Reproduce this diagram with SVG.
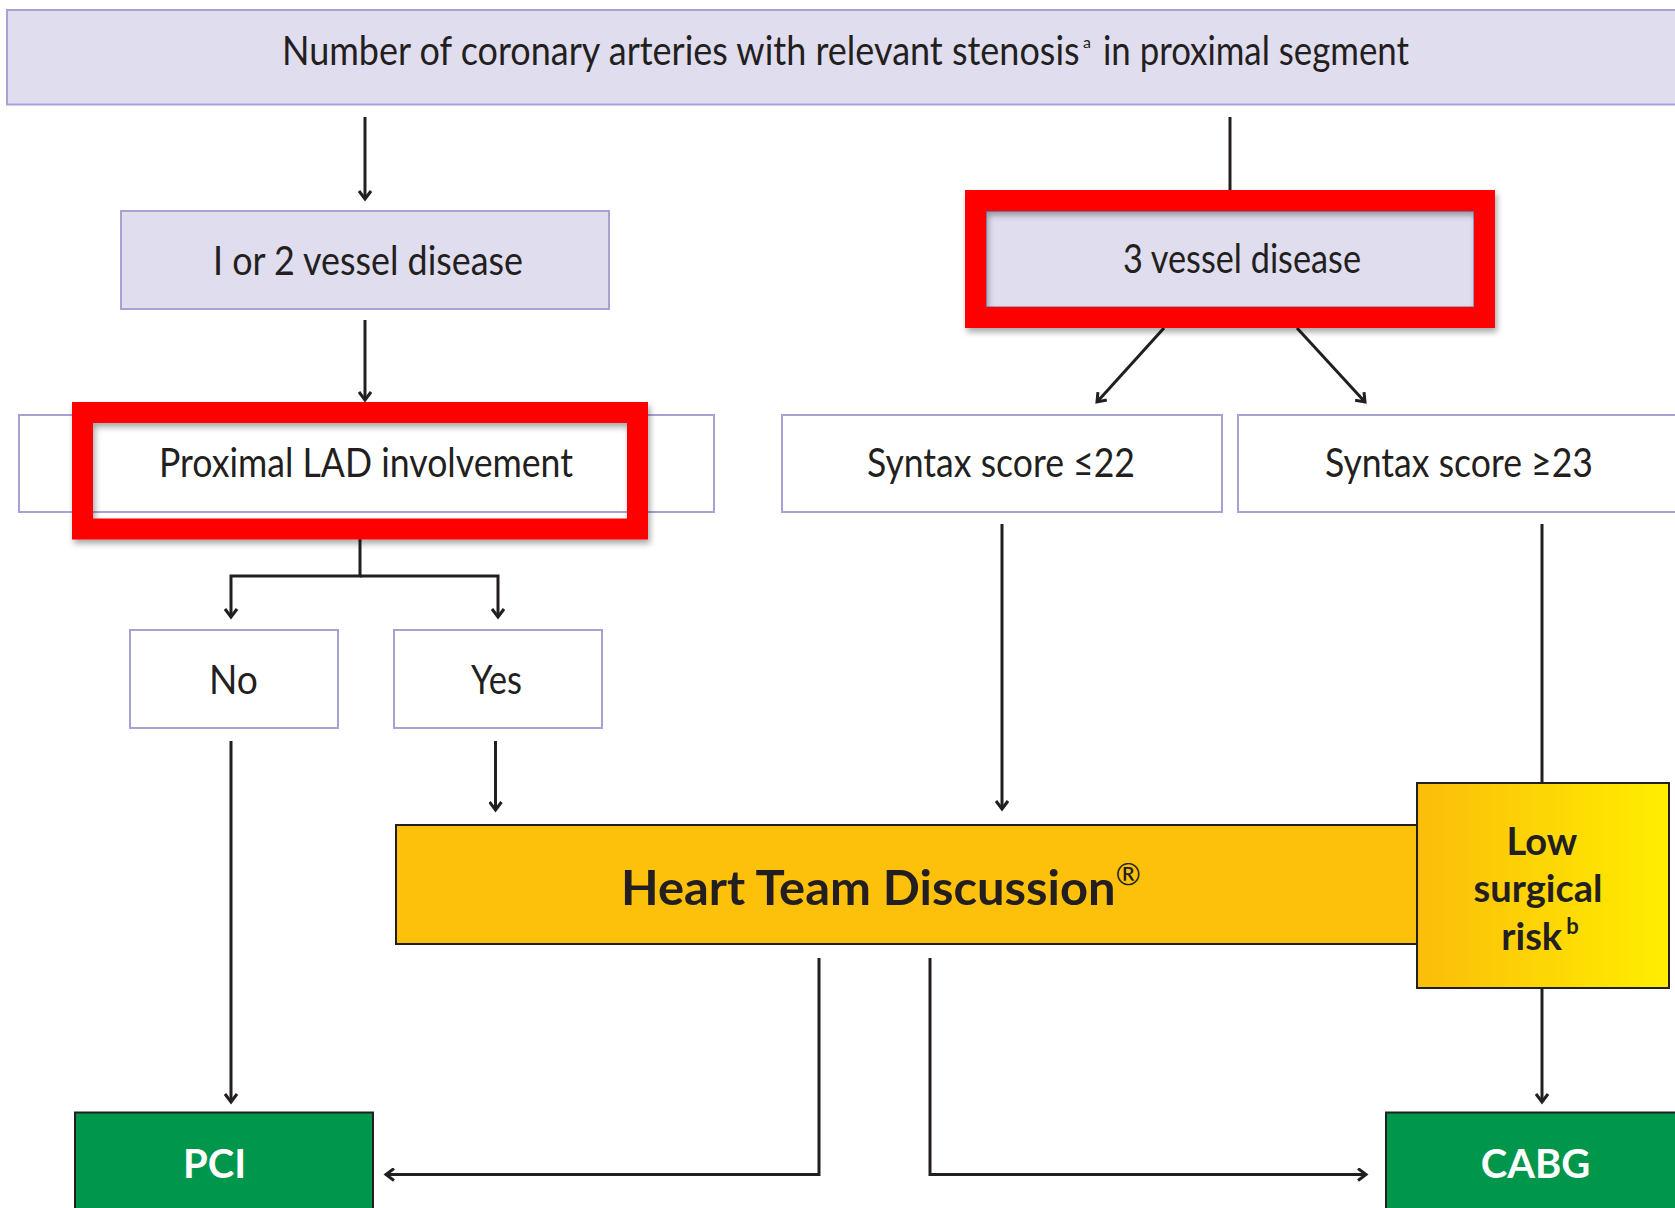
<svg xmlns="http://www.w3.org/2000/svg" width="1675" height="1208" viewBox="0 0 1675 1208">
<style>
.lav{fill:#e0ddef;stroke:#a7a2d6;stroke-width:2}
.wht{fill:#ffffff;stroke:#a7a2d6;stroke-width:2}
.t{font-family:Lato,"Liberation Sans",sans-serif;font-size:40px;fill:#231f20}
.sup{font-family:Lato,"Liberation Sans",sans-serif;font-size:16px;fill:#231f20}
.b{font-family:Lato,"Liberation Sans",sans-serif;font-weight:bold;fill:#231f20}
.w{font-family:Lato,"Liberation Sans",sans-serif;font-weight:bold;font-size:40px;fill:#ffffff}
.c{fill:none;stroke:#231f20;stroke-width:3}
.grn{fill:#00964b;stroke:#231f20;stroke-width:2}
.hl{fill:none;stroke:#ff0000;stroke-width:21}
</style>
<defs>
<marker id="ah" markerUnits="userSpaceOnUse" markerWidth="14" markerHeight="14" viewBox="0 0 14 14" refX="11" refY="7" orient="auto">
<path d="M3,1 L11,7 L3,13" fill="none" stroke="#231f20" stroke-width="3"/>
</marker>
<linearGradient id="gy" x1="0" y1="0" x2="1" y2="0">
<stop offset="0" stop-color="#fbbd0a"/>
<stop offset="1" stop-color="#ffee00"/>
</linearGradient>
<filter id="sh" x="-10%" y="-10%" width="120%" height="130%">
<feDropShadow dx="2" dy="4" stdDeviation="3" flood-color="#000" flood-opacity="0.35"/>
</filter>
</defs>

<g id="connectors">
<line class="c" x1="365" y1="117" x2="365" y2="199" marker-end="url(#ah)"/>
<line class="c" x1="1230" y1="117" x2="1230" y2="199" marker-end="url(#ah)"/>
<line class="c" x1="365" y1="320" x2="365" y2="400" marker-end="url(#ah)"/>
<path class="c" d="M360,539 V576 H231 V617" marker-end="url(#ah)"/>
<path class="c" d="M360,576 H498 V617" marker-end="url(#ah)"/>
<line class="c" x1="1164" y1="328" x2="1097" y2="402" marker-end="url(#ah)"/>
<line class="c" x1="1297" y1="328" x2="1365" y2="402" marker-end="url(#ah)"/>
<line class="c" x1="1002" y1="524" x2="1002" y2="809" marker-end="url(#ah)"/>
<line class="c" x1="1542" y1="524" x2="1542" y2="783"/>
<line class="c" x1="231" y1="741" x2="231" y2="1102" marker-end="url(#ah)"/>
<line class="c" x1="495.5" y1="741" x2="495.5" y2="810" marker-end="url(#ah)"/>
<line class="c" x1="1542" y1="988" x2="1542" y2="1102" marker-end="url(#ah)"/>
<path class="c" d="M819,958 V1174.5 H386" marker-end="url(#ah)"/>
<path class="c" d="M930,958 V1174.5 H1366" marker-end="url(#ah)"/>
</g>

<g id="top">
<rect class="lav" x="7" y="10" width="1690" height="94.5"/>
<text class="t" transform="translate(282,65) scale(0.9,1)" x="0" y="0">Number of coronary arteries with relevant stenosis</text>
<text class="sup" x="1083" y="48">a</text>
<text class="t" transform="translate(1103,65) scale(0.87,1)" x="0" y="0">in proximal segment</text>
</g>

<g id="one-two">
<rect class="lav" x="121" y="211" width="488" height="98"/>
<text class="t" x="213" y="275" textLength="310" lengthAdjust="spacingAndGlyphs">I or 2 vessel disease</text>
</g>

<g id="three">
<rect class="lav" x="986" y="211" width="488" height="96"/>
<text class="t" x="1123" y="273" textLength="238" lengthAdjust="spacingAndGlyphs">3 vessel disease</text>
</g>

<g id="lad">
<rect class="wht" x="19" y="415" width="695" height="97"/>
<text class="t" x="159" y="477" textLength="414" lengthAdjust="spacingAndGlyphs">Proximal LAD involvement</text>
</g>

<g id="syntax22">
<rect class="wht" x="782" y="415" width="440" height="97"/>
<text class="t" x="867" y="477" textLength="268" lengthAdjust="spacingAndGlyphs">Syntax score ≤22</text>
</g>

<g id="syntax23">
<rect class="wht" x="1238" y="415" width="460" height="97"/>
<text class="t" x="1325" y="477" textLength="268" lengthAdjust="spacingAndGlyphs">Syntax score ≥23</text>
</g>

<g id="no">
<rect class="wht" x="130" y="630" width="208" height="98"/>
<text class="t" x="209" y="694" textLength="49" lengthAdjust="spacingAndGlyphs">No</text>
</g>

<g id="yes">
<rect class="wht" x="394" y="630" width="208" height="98"/>
<text class="t" x="471" y="694" textLength="51" lengthAdjust="spacingAndGlyphs">Yes</text>
</g>

<g id="heart-team">
<rect x="396" y="825" width="1021" height="119" fill="#fdc00b" stroke="#231f20" stroke-width="2"/>
<text class="b" x="621" y="905" font-size="48" textLength="520" lengthAdjust="spacingAndGlyphs">Heart Team Discussion<tspan font-weight="normal" font-size="30" dy="-20">®</tspan></text>
</g>

<g id="low-risk">
<rect x="1417" y="783" width="252" height="205" fill="url(#gy)" stroke="#231f20" stroke-width="2"/>
<text class="b" font-size="38" text-anchor="middle" x="1542" y="855">Low</text>
<text class="b" font-size="38" text-anchor="middle" x="1538" y="902">surgical</text>
<text class="b" font-size="38" text-anchor="middle" x="1540" y="950">risk<tspan font-size="22" dy="-16" dx="4">b</tspan></text>
</g>

<g id="pci">
<rect class="grn" x="75" y="1112.5" width="298" height="110"/>
<text class="w" x="214.5" y="1178" text-anchor="middle">PCI</text>
</g>

<g id="cabg">
<rect class="grn" x="1386" y="1112.5" width="310" height="110"/>
<text class="w" x="1535.5" y="1178" text-anchor="middle">CABG</text>
</g>

<g id="highlights">
<rect class="hl" x="82.5" y="412.5" width="555" height="116.5" filter="url(#sh)"/>
<rect class="hl" x="975.5" y="200.5" width="509" height="117" filter="url(#sh)"/>
</g>
</svg>
